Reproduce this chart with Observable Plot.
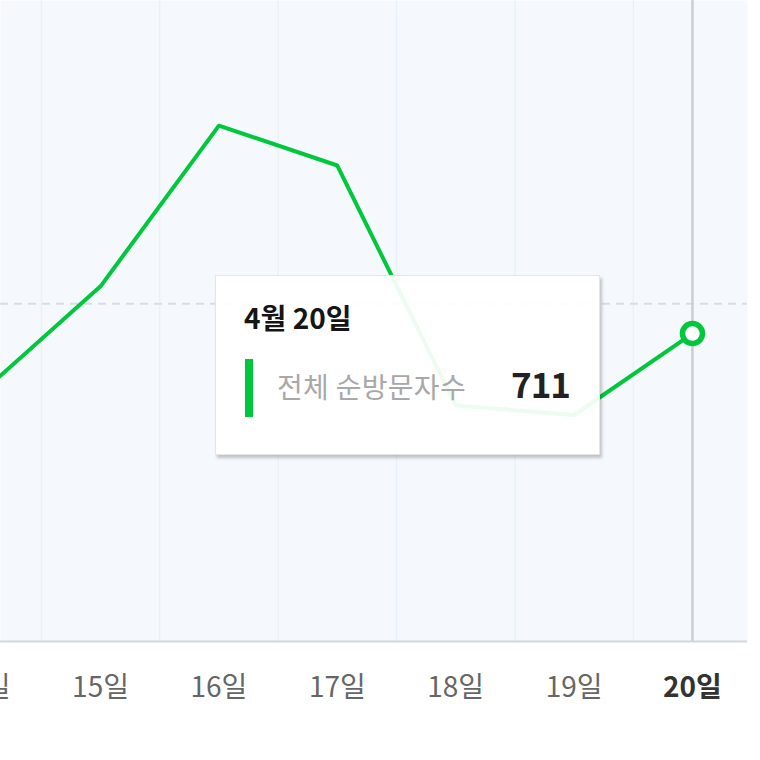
<!DOCTYPE html>
<html>
<head>
<meta charset="utf-8">
<script src="https://cdn.jsdelivr.net/npm/d3@7"></script>
<script src="https://cdn.jsdelivr.net/npm/@observablehq/plot@0.6"></script>
<style>
  html, body { margin: 0; padding: 0; background: #fff; }
  #wrap { position: relative; width: 760px; height: 760px; overflow: hidden; font-family: 'Noto Sans CJK KR', 'Noto Sans', sans-serif; }
  #tip { position: absolute; left: 215px; top: 275px; width: 385px; height: 180px; box-sizing: border-box;
         background: rgba(255,255,255,0.93); border: 1px solid #e3e5e7; box-shadow: 2px 3px 3px rgba(0,0,0,0.22); }
  #tip .title { position: absolute; left: 28px; top: 27px; font-size: 28px; line-height: 28px; font-weight: 700; color: #151515; letter-spacing: 0px; }
  #tip .bar { position: absolute; left: 29px; top: 83px; width: 8px; height: 58px; }
  #tip .name { position: absolute; left: 61px; top: 96px; font-size: 28px; line-height: 28px; color: #a8a8a8; letter-spacing: 0.3px; }
  #tip .val { position: absolute; right: 29px; top: 89px; font-size: 35px; line-height: 35px; font-weight: 700; color: #222; letter-spacing: -1px; }
</style>
</head>
<body>
<div id="wrap"></div>
<script>
// ---- data ----
const month = 4;
const days = [14, 15, 16, 17, 18, 19, 20];
const visitors = [576, 820, 1191, 1099, 545, 523, 711];
const seriesName = "전체 순방문자수";
const selectedDay = 20;
const yGridTicks = [780];
const xDomain = [14.155, 20.465];
const yDomain = [0, 1480];
const lineColor = "#00c73c";

const data = days.map((d, i) => ({day: d, value: visitors[i]}));
const selected = data.find(d => d.day === selectedDay);
const dayLabel = d => d + "일";

const chart = Plot.plot({
  width: 760,
  height: 760,
  marginLeft: 0,
  marginRight: 13,
  marginTop: 0,
  marginBottom: 119,
  x: {domain: xDomain, axis: null},
  y: {domain: yDomain, axis: null},
  style: {fontFamily: "'Noto Sans CJK KR', 'Noto Sans', sans-serif", background: "white"},
  marks: [
    Plot.frame({fill: "#f5f9fd", stroke: null}),
    Plot.ruleX(days.map(d => d + 0.5), {stroke: "#e9f2fa", strokeWidth: 1.5, clip: "frame"}),
    Plot.ruleY(yGridTicks, {stroke: "#d8dde1", strokeWidth: 2, strokeDasharray: "8,6"}),
    Plot.ruleX([selectedDay], {stroke: "#cbcfd3", strokeWidth: 2.5}),
    Plot.ruleY([0], {stroke: "#d3d7db", strokeWidth: 2}),
    Plot.line(data, {x: "day", y: "value", stroke: lineColor, strokeWidth: 4, clip: "frame"}),
    Plot.dot([selected], {x: "day", y: "value", r: 10, fill: "white", stroke: lineColor, strokeWidth: 5.5}),
    Plot.text(data.filter(d => d.day !== selectedDay), {
      x: "day", text: d => dayLabel(d.day), frameAnchor: "bottom", dy: 55,
      fontSize: 28, fill: "#666", letterSpacing: "-1px"
    }),
    Plot.text([selected], {
      x: "day", text: d => dayLabel(d.day), frameAnchor: "bottom", dy: 55,
      fontSize: 28, fontWeight: "bold", fill: "#333", letterSpacing: "-1px"
    })
  ]
});

const wrap = document.getElementById("wrap");
wrap.appendChild(chart);

// tooltip overlay
const tip = document.createElement("div");
tip.id = "tip";
const title = document.createElement("div");
title.className = "title";
title.textContent = `${month}월 ${selected.day}일`;
const bar = document.createElement("div");
bar.className = "bar";
bar.style.background = lineColor;
const name = document.createElement("div");
name.className = "name";
name.textContent = seriesName;
const val = document.createElement("div");
val.className = "val";
val.textContent = d3.format(",")(selected.value);
tip.append(title, bar, name, val);
wrap.appendChild(tip);
</script>
</body>
</html>
